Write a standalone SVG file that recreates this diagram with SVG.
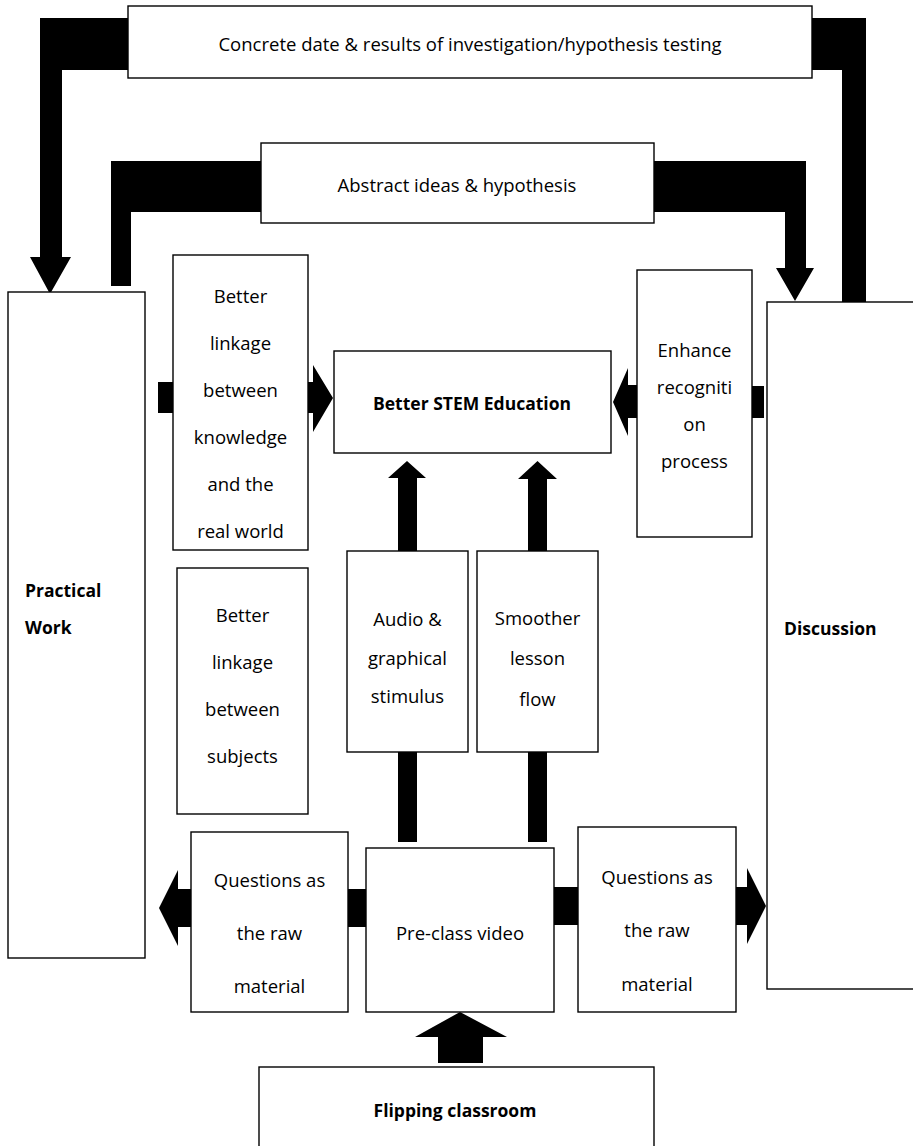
<svg xmlns="http://www.w3.org/2000/svg" width="913" height="1146" viewBox="0 0 913 1146">
<style>
.box{fill:#fff;stroke:#000;stroke-width:1.4}
.t{font-family:"Open Sans","Liberation Sans",sans-serif;font-size:18.5px;fill:#000;text-anchor:middle;dominant-baseline:central}
.b{font-weight:bold;font-size:17.5px}
.l{text-anchor:start}
.c{fill:#000;stroke:none}
</style>
<rect width="913" height="1146" fill="#fff"/>
<g id="connectors">
<polygon class="c" points="128,18 40,18 40,257 30,257 50,294 71,257 62,257 62,70 128,70"/>
<polygon class="c" points="812,18 866,18 866,302 842,302 842,70 812,70"/>
<polygon class="c" points="261,161 111,161 111,286 131,286 131,212 261,212"/>
<polygon class="c" points="654,161 806,161 806,268 814,268 795,301 776,268 785,268 785,212 654,212"/>
<rect class="c" x="158" y="382" width="15" height="31"/>
<polygon class="c" points="308,382 313,382 313,365 333,398 313,432 313,413 308,413"/>
<polygon class="c" points="637,385 628,385 628,368 613,402 628,436 628,418 637,418"/>
<rect class="c" x="752" y="386" width="12" height="32"/>
<polygon class="c" points="398,551 398,478 388,478 407,461 426,478 417,478 417,551"/>
<rect class="c" x="398" y="752" width="19" height="90"/>
<polygon class="c" points="528,551 528,479 518,479 537.5,461 557,479 547,479 547,551"/>
<rect class="c" x="528" y="752" width="19" height="90"/>
<rect class="c" x="348" y="889" width="18" height="38"/>
<polygon class="c" points="191,889 178,889 178,870 159,908 178,946 178,927 191,927"/>
<rect class="c" x="554" y="887" width="24" height="38"/>
<polygon class="c" points="736,887 747,887 747,868 766,906 747,944 747,925 736,925"/>
<polygon class="c" points="438,1063 438,1037 415,1037 460,1012 507,1037 483,1037 483,1063"/>
</g>
<g id="concrete">
<rect class="box" x="128" y="6" width="684" height="72"/>
<text class="t" x="470" y="43">Concrete date &amp; results of investigation/hypothesis testing</text>
</g>
<g id="abstract">
<rect class="box" x="261" y="143" width="393" height="80"/>
<text class="t" x="457" y="184">Abstract ideas &amp; hypothesis</text>
</g>
<g id="practical">
<rect class="box" x="8" y="292" width="137" height="666"/>
<text class="t b l" x="25" y="590">Practical</text>
<text class="t b l" x="25" y="627">Work</text>
</g>
<g id="linkage-real">
<rect class="box" x="173" y="255" width="135" height="295"/>
<text class="t" x="240.5" y="295">Better</text>
<text class="t" x="240.5" y="342">linkage</text>
<text class="t" x="240.5" y="389">between</text>
<text class="t" x="240.5" y="436">knowledge</text>
<text class="t" x="240.5" y="483">and the</text>
<text class="t" x="240.5" y="530">real world</text>
</g>
<g id="stem">
<rect class="box" x="334" y="351" width="277" height="102"/>
<text class="t b" x="472" y="403">Better STEM Education</text>
</g>
<g id="enhance">
<rect class="box" x="637" y="270" width="115" height="267"/>
<text class="t" x="694.5" y="349">Enhance</text>
<text class="t" x="694.5" y="386">recogniti</text>
<text class="t" x="694.5" y="423">on</text>
<text class="t" x="694.5" y="460">process</text>
</g>
<g id="discussion">
<rect class="box" x="767" y="302" width="160" height="687"/>
<text class="t b l" x="784" y="628">Discussion</text>
</g>
<g id="linkage-subjects">
<rect class="box" x="177" y="568" width="131" height="246"/>
<text class="t" x="242.5" y="614">Better</text>
<text class="t" x="242.5" y="661">linkage</text>
<text class="t" x="242.5" y="708">between</text>
<text class="t" x="242.5" y="755">subjects</text>
</g>
<g id="audio">
<rect class="box" x="347" y="551" width="121" height="201"/>
<text class="t" x="407.5" y="618">Audio &amp;</text>
<text class="t" x="407.5" y="657">graphical</text>
<text class="t" x="407.5" y="695">stimulus</text>
</g>
<g id="smoother">
<rect class="box" x="477" y="551" width="121" height="201"/>
<text class="t" x="537.5" y="617">Smoother</text>
<text class="t" x="537.5" y="657">lesson</text>
<text class="t" x="537.5" y="698">flow</text>
</g>
<g id="questions-left">
<rect class="box" x="191" y="832" width="157" height="180"/>
<text class="t" x="269.5" y="879">Questions as</text>
<text class="t" x="269.5" y="932">the raw</text>
<text class="t" x="269.5" y="985">material</text>
</g>
<g id="preclass">
<rect class="box" x="366" y="848" width="188" height="164"/>
<text class="t" x="460" y="932">Pre-class video</text>
</g>
<g id="questions-right">
<rect class="box" x="578" y="827" width="158" height="185"/>
<text class="t" x="657" y="876">Questions as</text>
<text class="t" x="657" y="929">the raw</text>
<text class="t" x="657" y="983">material</text>
</g>
<g id="flipping">
<rect class="box" x="259" y="1067" width="395" height="100"/>
<text class="t b" x="455" y="1110">Flipping classroom</text>
</g>
</svg>
